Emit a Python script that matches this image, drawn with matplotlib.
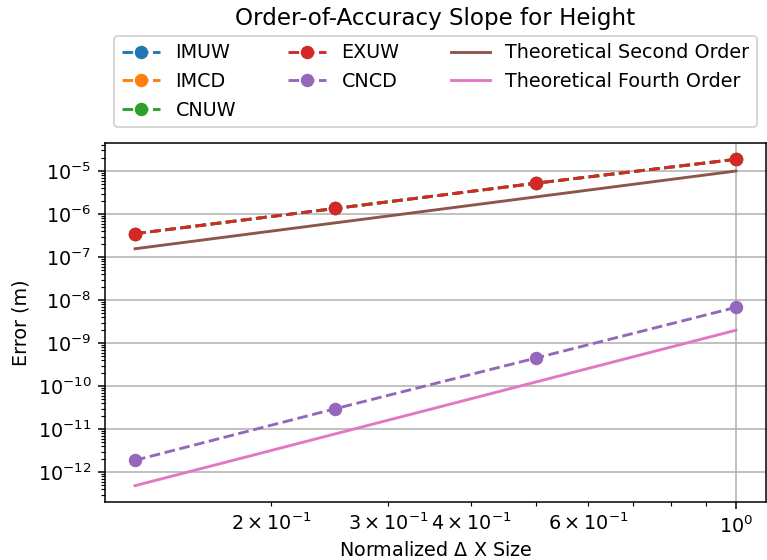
import numpy as np
import matplotlib
matplotlib.use("Agg")
import matplotlib.pyplot as plt

# normalized grid spacing
dx = [0.125, 0.25, 0.5, 1.0]

# height error per scheme [m]
err_imuw = [3.5e-7, 1.35e-6, 5.2e-6, 1.87e-5]
err_imcd = [3.5e-7, 1.35e-6, 5.2e-6, 1.87e-5]
err_cnuw = [3.5e-7, 1.35e-6, 5.2e-6, 1.87e-5]
err_exuw = [3.5e-7, 1.35e-6, 5.2e-6, 1.87e-5]
err_cncd = [1.9e-12, 3.0e-11, 4.5e-10, 6.8e-9]

# reference slopes
theory_2nd = [1.5625e-7, 6.25e-7, 2.5e-6, 1.0e-5]
theory_4th = [4.8828e-13, 7.8125e-12, 1.25e-10, 2.0e-9]

DPI = 138
fig = plt.figure(figsize=(767 / DPI, 560 / DPI), dpi=DPI)
ax = fig.add_axes([105 / 767, 1 - 502 / 560, 661 / 767, 359 / 560])

ax.loglog(dx, err_imuw, 'o--', label='IMUW')
ax.loglog(dx, err_imcd, 'o--', label='IMCD')
ax.loglog(dx, err_cnuw, 'o--', label='CNUW')
ax.loglog(dx, err_exuw, 'o--', label='EXUW')
ax.loglog(dx, err_cncd, 'o--', label='CNCD')
ax.loglog(dx, theory_2nd, '-', label='Theoretical Second Order')
ax.loglog(dx, theory_4th, '-', label='Theoretical Fourth Order')

ax.grid(True)
ax.set_xlabel(r'Normalized $\Delta$ X Size', labelpad=2)
ax.set_ylabel('Error (m)')
ax.legend(loc='lower center', bbox_to_anchor=(0.5, 1.017), ncol=3,
          columnspacing=2.7)
fig.suptitle('Order-of-Accuracy Slope for Height', x=435.5 / 767, y=0.988)

fig.savefig('out.png', dpi=DPI)
